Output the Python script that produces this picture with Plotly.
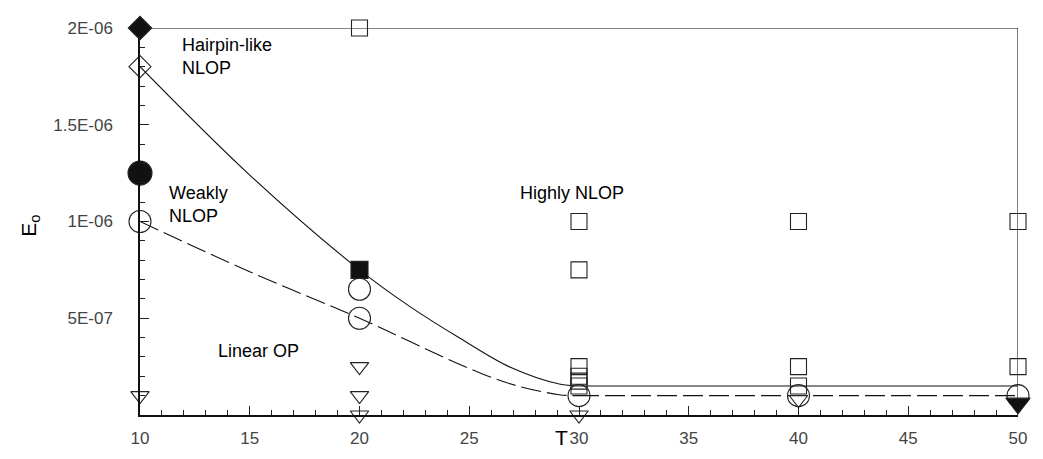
import plotly.graph_objects as go

# ---- data ----
# boundary curves
solid_curve_x = [10, 15, 20, 22.3, 24.6, 26.9, 29.1, 30]
solid_curve_y = [1.8e-6, 1.24e-6, 7.5e-7, 5.6e-7, 3.95e-7, 2.45e-7, 1.6e-7, 1.5e-7]
solid_flat_x = [30, 50]
solid_flat_y = [1.5e-7, 1.5e-7]

dashed_curve_x = [10, 15, 20, 22.3, 24.6, 26.9, 29.1, 30]
dashed_curve_y = [1.0e-6, 7.4e-7, 5.0e-7, 3.8e-7, 2.6e-7, 1.6e-7, 1.05e-7, 1.0e-7]
dashed_flat_x = [30, 50]
dashed_flat_y = [1.0e-7, 1.0e-7]

top_x = [10, 50]
top_y = [2e-6, 2e-6]
right_x = [50, 50]
right_y = [2e-6, 0]

# markers
open_sq_x = [20, 30, 30, 30, 30, 30, 30, 40, 40, 40, 50, 50]
open_sq_y = [2e-6, 1e-6, 7.5e-7, 2.5e-7, 2e-7, 1.75e-7, 1.5e-7, 1e-6, 2.5e-7, 1.5e-7, 1e-6, 2.5e-7]
filled_sq_x = [20]
filled_sq_y = [7.5e-7]
open_circ_x = [10, 20, 20, 30, 40, 50]
open_circ_y = [1e-6, 6.5e-7, 5e-7, 1e-7, 1e-7, 1e-7]
filled_circ_x = [10]
filled_circ_y = [1.25e-6]
open_dia_x = [10]
open_dia_y = [1.8e-6]
filled_dia_x = [10]
filled_dia_y = [2e-6]
open_tri_x = [10, 20, 20, 20, 30, 40]
open_tri_y = [1e-7, 2.5e-7, 1e-7, 0, 0, 8e-8]
filled_tri_x = [50]
filled_tri_y = [6e-8]

y_tickvals = [5e-7, 1e-6, 1.5e-6, 2e-6]
y_ticktext = ["5E-07", "1E-06", "1.5E-06", "2E-06"]
x_tickvals = [10, 15, 20, 25, 30, 35, 40, 45, 50]

fig = go.Figure()
lc = "#111111"

def line(x, y, dash="solid", shape="linear"):
    fig.add_trace(go.Scatter(x=x, y=y, mode="lines", line=dict(color=lc, width=1.1, dash=dash, shape=shape, smoothing=1.0),
                             hoverinfo="skip", cliponaxis=False))

line(top_x, top_y)
line(right_x, right_y)
line(solid_curve_x, solid_curve_y, shape="spline")
line(solid_flat_x, solid_flat_y)
line(dashed_curve_x, dashed_curve_y, dash="20px,6px", shape="spline")
line(dashed_flat_x, dashed_flat_y, dash="20px,6px")

def mk(x, y, symbol, size, filled):
    fig.add_trace(go.Scatter(
        x=x, y=y, mode="markers", cliponaxis=False,
        marker=dict(symbol=symbol, size=size,
                    color=lc if filled else "rgba(255,255,255,0)",
                    line=dict(color="#222222", width=1.1))))

mk(open_sq_x, open_sq_y, "square", 16, False)
mk(filled_sq_x, filled_sq_y, "square", 17, True)
mk(open_circ_x, open_circ_y, "circle", 22, False)
mk(filled_circ_x, filled_circ_y, "circle", 24, True)
mk(open_dia_x, open_dia_y, "diamond", 17, False)
mk(filled_dia_x, filled_dia_y, "diamond", 18, True)
mk(open_tri_x, open_tri_y, "triangle-down", 16, False)
mk(filled_tri_x, filled_tri_y, "triangle-down", 21, True)

afont = dict(family="Liberation Sans, Arial, sans-serif", size=18, color="black")
ann = [
    dict(x=11.8, y=1.855e-6, text="Hairpin-like<br>NLOP", xanchor="left", align="left"),
    dict(x=11.23, y=1.09e-6, text="Weakly<br>NLOP", xanchor="left", align="left"),
    dict(x=27.2, y=1.145e-6, text="Highly NLOP", xanchor="left"),
    dict(x=13.45, y=3.3e-7, text="Linear OP", xanchor="left"),
]
for a in ann:
    fig.add_annotation(showarrow=False, yanchor="middle", font=afont, **a)

fig.add_annotation(xref="paper", yref="paper", x=-0.142, y=0.49, text="E<sub>o</sub>",
                   textangle=-90, showarrow=False,
                   font=dict(family="Liberation Sans, Arial, sans-serif", size=21, color="black"))
fig.add_annotation(xref="x", yref="paper", x=29.2, y=-0.058, text="T", yanchor="middle",
                   showarrow=False,
                   font=dict(family="Liberation Sans, Arial, sans-serif", size=21, color="black"))

tfont = dict(family="Liberation Sans, Arial, sans-serif", size=17, color="#444444")
fig.update_layout(
    width=1035, height=451,
    margin=dict(l=132, r=25, t=11, b=40),
    paper_bgcolor="white", plot_bgcolor="white",
    showlegend=False,
    xaxis=dict(range=[10, 50], tickvals=x_tickvals, ticks="inside", ticklen=9, tickwidth=1,
               tickcolor="#222", showgrid=False, zeroline=False, showline=True, linecolor="#111",
               linewidth=1.5, tickfont=tfont, ticklabelstandoff=7,
               minor=dict(ticks="inside", dtick=1, ticklen=5, tickcolor="#222", showgrid=False)),
    yaxis=dict(range=[0, 2e-6], tickvals=y_tickvals, ticktext=y_ticktext, ticks="inside", ticklen=9,
               tickwidth=1, tickcolor="#222", showgrid=False, zeroline=False, showline=True,
               linecolor="#111", linewidth=1.5, tickfont=tfont, ticklabelstandoff=22,
               minor=dict(ticks="inside", dtick=1e-7, tick0=0, ticklen=5, tickcolor="#222", showgrid=False)),
)

fig.write_html("out.html")
